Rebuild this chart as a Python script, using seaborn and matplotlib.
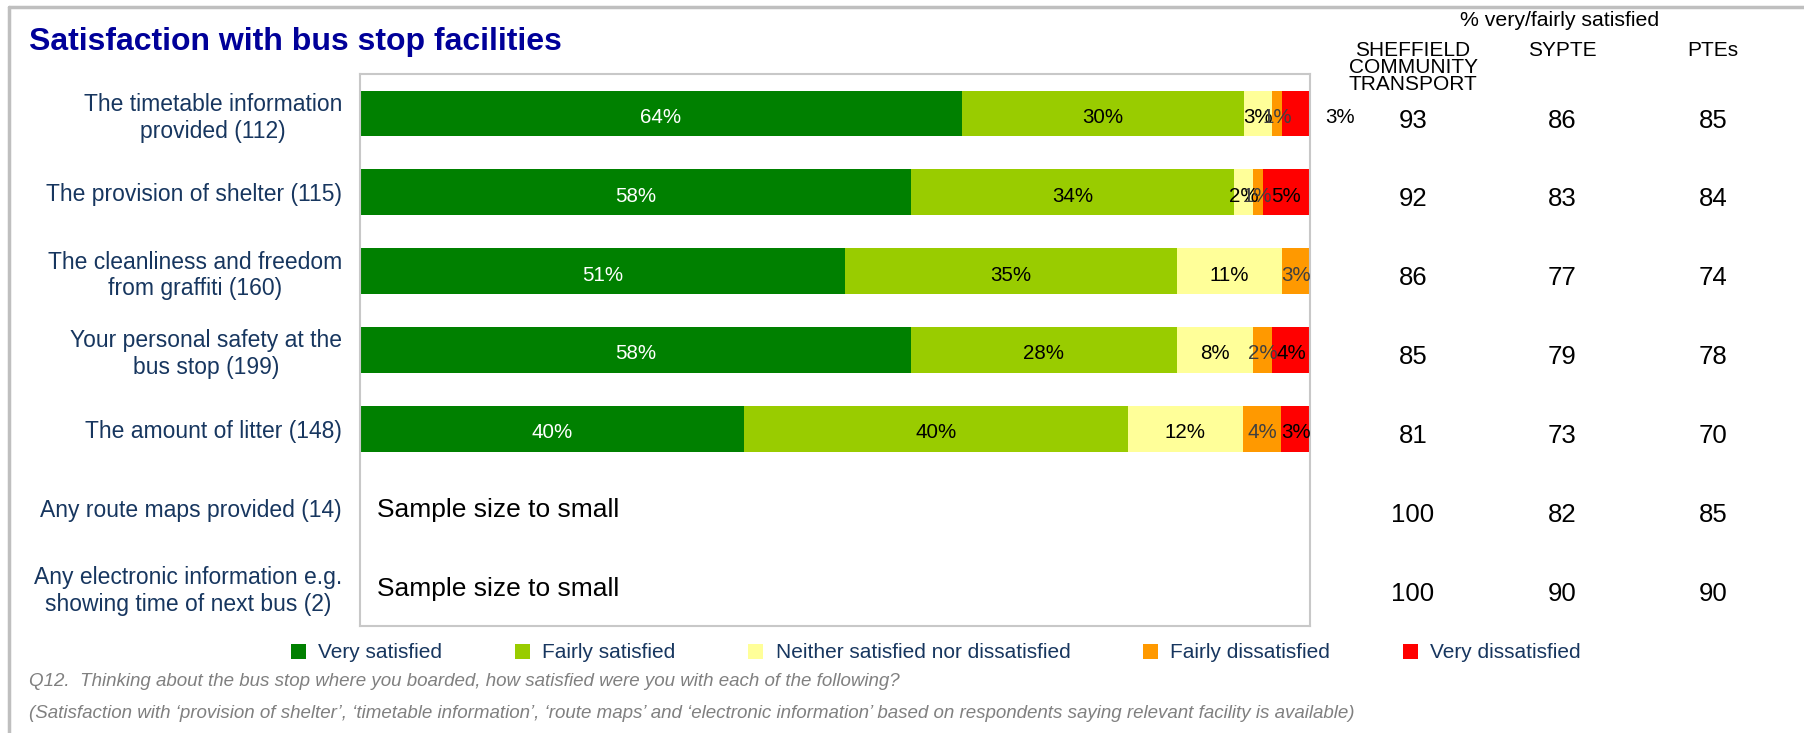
import numpy as np
import pandas as pd
import matplotlib
matplotlib.use('Agg')
import matplotlib.pyplot as plt
import matplotlib.transforms as mtransforms
from matplotlib.patches import Patch
from matplotlib.lines import Line2D
import seaborn as sns

# ---- data ----
facilities = [
    'The timetable information\nprovided (112)',
    'The provision of shelter (115)',
    'The cleanliness and freedom\nfrom graffiti (160)',
    'Your personal safety at the\nbus stop (199)',
    'The amount of litter (148)',
    'Any route maps provided (14)',
    'Any electronic information e.g.\nshowing time of next bus (2)',
]
levels = ['Very satisfied', 'Fairly satisfied', 'Neither satisfied nor dissatisfied',
          'Fairly dissatisfied', 'Very dissatisfied']
very_satisfied = [64, 58, 51, 58, 40, np.nan, np.nan]
fairly_satisfied = [30, 34, 35, 28, 40, np.nan, np.nan]
neither = [3, 2, 11, 8, 12, np.nan, np.nan]
fairly_dissatisfied = [1, 1, 3, 2, 4, np.nan, np.nan]
very_dissatisfied = [3, 5, 0, 4, 3, np.nan, np.nan]

sct = [93, 92, 86, 85, 81, 100, 100]
sypte = [86, 83, 77, 79, 73, 82, 90]
ptes = [85, 84, 74, 78, 70, 85, 90]
table_cols = ['SHEFFIELD\nCOMMUNITY\nTRANSPORT', 'SYPTE', 'PTEs']

colors = ['#008000', '#99CC00', '#FFFF99', '#FF9900', '#FF0000']
label_colors = ['white', 'black', 'black', '#404040', 'black']
NAVY = '#17365F'

sns.set_theme(style='white')
plt.rcParams['font.family'] = ['Liberation Sans', 'DejaVu Sans']

df = pd.DataFrame({'facility': facilities,
                   levels[0]: very_satisfied, levels[1]: fairly_satisfied,
                   levels[2]: neither, levels[3]: fairly_dissatisfied,
                   levels[4]: very_dissatisfied})
raw = df[levels].fillna(0)
tot = raw.sum(axis=1).replace(0, 1)
scaled = raw.div(tot, axis=0) * 100
cum = scaled.cumsum(axis=1)
for lv in levels:
    df['cum_' + lv] = cum[lv]

W, H = 1804, 733
fig = plt.figure(figsize=(W / 100, H / 100), dpi=100)
ax = fig.add_axes([360 / W, 1 - 626 / H, 950 / W, 552 / H])

# stacked bars: draw cumulative totals from the right-most level down
for lv, c in reversed(list(zip(levels, colors))):
    sns.barplot(data=df, x='cum_' + lv, y='facility', order=facilities, color=c,
                saturation=1, width=0.58, errorbar=None, linewidth=0, ax=ax)

# segment labels
for i in range(len(facilities)):
    if np.isnan(very_satisfied[i]):
        ax.text(1.8, i + 0.03, 'Sample size to small', ha='left', va='center',
                fontsize=19, color='black')
        continue
    left = 0
    for j, lv in enumerate(levels):
        w = scaled.loc[i, lv]
        v = int(raw.loc[i, lv])
        if v > 0:
            xc = left + w / 2
            if i == 0 and j == 4:
                xc = 103.2  # label pushed outside the bar
            ax.text(xc, i + 0.05, f'{v}%', ha='center', va='center',
                    fontsize=14.8, color=label_colors[j])
        left += w

ax.set_xlim(0, 100)
ax.set_ylim(6.5, -0.5)
ax.set_xlabel('')
ax.set_ylabel('')
ax.set_xticks([])
ax.tick_params(axis='y', left=False, pad=7)
for t in ax.get_yticklabels():
    t.set_fontsize(16.5)
    t.set_color(NAVY)
    t.set_multialignment('center')
for s in ax.spines.values():
    s.set_visible(True)
    s.set_color('#C8C8C8')
    s.set_linewidth(1.5)

# right-hand table
trans = mtransforms.blended_transform_factory(fig.transFigure, ax.transData)
col_x = [1413 / W, 1562 / W, 1713 / W]
for x, col, vals in zip(col_x, table_cols, [sct, sypte, ptes]):
    fig.text(x, 1 - 41 / H, col, ha='center', va='top', fontsize=15,
             color='black', linespacing=0.85)
    for i, v in enumerate(vals):
        ax.text(x, i + 0.09, str(v), transform=trans, ha='center', va='center',
                fontsize=18.5, color='black')
fig.text(1560 / W, 1 - 20 / H, '% very/fairly satisfied', ha='center', va='center',
         fontsize=15.3, color='black')

# title
fig.text(29 / W, 1 - 42 / H, 'Satisfaction with bus stop facilities', ha='left',
         va='center', fontsize=23, fontweight='bold', color='#000099')

# legend
handles = [Patch(facecolor=c, edgecolor='none') for c in colors]
fig.legend(handles, levels, ncol=5, loc='center',
           bbox_to_anchor=(936 / W, 1 - 653 / H), bbox_transform=fig.transFigure,
           frameon=False, fontsize=15, handlelength=0.7, handleheight=0.7,
           handletextpad=0.6, columnspacing=3.5, labelcolor=NAVY)

# footnotes
fig.text(29 / W, 1 - 681 / H,
         'Q12.  Thinking about the bus stop where you boarded, how satisfied were you with each of the following?',
         ha='left', va='center', fontsize=13.5, style='italic', color='#808080')
fig.text(29 / W, 1 - 714 / H,
         '(Satisfaction with \u2018provision of shelter\u2019, \u2018timetable information\u2019, '
         '\u2018route maps\u2019 and \u2018electronic information\u2019 based on respondents '
         'saying relevant facility is available)',
         ha='left', va='center', fontsize=13.5, style='italic', color='#808080')

# outer frame: top and left edges only
frame_kw = dict(transform=fig.transFigure, color='#BFBFBF', linewidth=2.5)
fig.lines.append(Line2D([9 / W, 1], [1 - 7 / H, 1 - 7 / H], **frame_kw))
fig.lines.append(Line2D([9 / W, 9 / W], [0, 1 - 7 / H], **frame_kw))

fig.savefig('out.png', dpi=100)
